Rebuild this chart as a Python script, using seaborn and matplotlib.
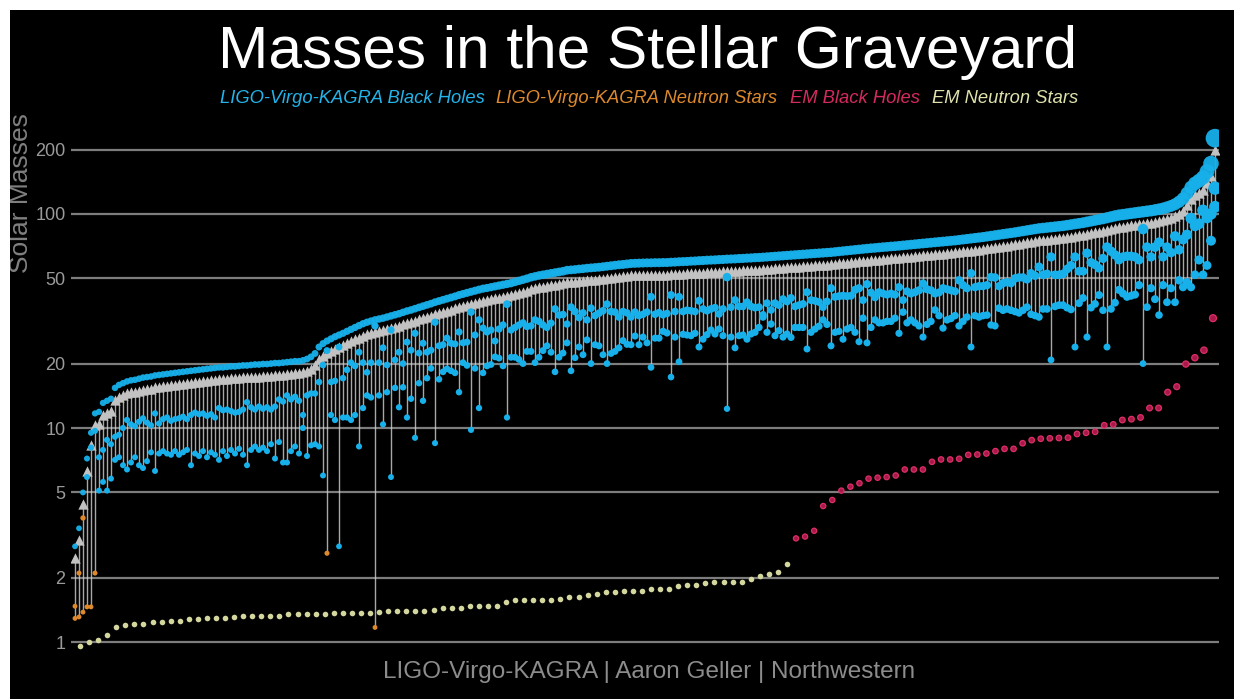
import matplotlib
matplotlib.use("Agg")
import numpy as np
import pandas as pd
import matplotlib.pyplot as plt
from matplotlib.patches import Rectangle
from matplotlib.ticker import NullLocator
import seaborn as sns

# ---------------- data ----------------
final_mass = [
    2.8, 3.4, 5.0, 7.2, 9.5, 11.7, 11.9, 13.1, 13.4, 13.7,
    15.4, 15.9, 16.2, 16.5, 16.7, 16.8, 17.0, 17.2, 17.3, 17.4,
    17.6, 17.7, 17.8, 17.9, 18.0, 18.1, 18.2, 18.3, 18.4, 18.5,
    18.6, 18.7, 18.8, 18.9, 19.0, 19.1, 19.2, 19.2, 19.3, 19.4,
    19.4, 19.5, 19.6, 19.6, 19.7, 19.8, 19.8, 19.9, 19.9, 20.0,
    20.1, 20.1, 20.2, 20.3, 20.4, 20.5, 20.5, 20.7, 21.0, 21.5,
    22.3, 23.9, 24.8, 25.5, 26.1, 26.7, 27.2, 27.7, 28.3, 28.9,
    29.5, 30.1, 30.7, 31.2, 31.6, 32.0, 32.3, 32.6, 33.0, 33.4,
    33.8, 34.2, 34.7, 35.2, 35.6, 36.1, 36.6, 37.1, 37.6, 38.1,
    38.7, 39.2, 39.7, 40.2, 40.7, 41.2, 41.8, 42.3, 42.8, 43.3,
    43.8, 44.3, 44.8, 45.1, 45.5, 45.9, 46.3, 46.7, 47.1, 47.5,
    48.1, 48.7, 49.3, 49.9, 50.6, 51.1, 51.6, 52.0, 52.4, 52.8,
    53.2, 53.6, 54.0, 54.6, 54.8, 55.0, 55.3, 55.5, 55.8, 56.0,
    56.2, 56.4, 56.7, 57.0, 57.3, 57.6, 57.9, 58.1, 58.4, 58.7,
    58.8, 58.9, 59.0, 59.1, 59.1, 59.2, 59.2, 59.3, 59.3, 59.5,
    59.6, 59.8, 59.9, 60.0, 60.2, 60.3, 60.5, 60.6, 60.8, 60.9,
    61.0, 61.2, 61.3, 61.5, 61.6, 61.7, 61.9, 62.0, 62.2, 62.3,
    62.5, 62.6, 62.8, 63.0, 63.2, 63.4, 63.6, 63.8, 64.0, 64.2,
    64.4, 64.6, 64.8, 65.0, 65.2, 65.4, 65.6, 65.8, 66.0, 66.2,
    66.5, 66.8, 67.1, 67.4, 67.7, 68.0, 68.3, 68.6, 68.9, 69.2,
    69.4, 69.7, 70.0, 70.2, 70.5, 70.7, 71.0, 71.3, 71.6, 71.9,
    72.2, 72.5, 72.8, 73.1, 73.4, 73.7, 74.0, 74.3, 74.6, 74.9,
    75.2, 75.6, 76.0, 76.4, 76.8, 77.2, 77.6, 78.0, 78.5, 79.0,
    79.5, 80.0, 80.5, 81.0, 81.5, 82.0, 82.6, 83.2, 83.8, 84.4,
    85.0, 85.6, 86.0, 86.4, 86.8, 87.2, 87.6, 88.0, 88.6, 89.2,
    89.8, 90.4, 91.0, 91.8, 92.6, 93.4, 94.2, 95.0, 96.0, 97.0,
    98.0, 98.8, 99.4, 100.0, 100.6, 101.2, 101.8, 102.4, 103.0, 103.6,
    104.4, 105.2, 106.2, 107.5, 109.0, 111.0, 114.0, 118.0, 125.0, 133.0,
    139.0, 143.0, 148.0, 158.0, 172.0, 226.0,
]

primary_mass = [
    1.47, 2.1, 3.8, 5.9, 8.1, 9.7, 7.3, 7.9, 8.8, 8.4,
    9.1, 9.3, 10.0, 10.9, 10.4, 10.2, 10.7, 11.1, 10.6, 10.3,
    11.7, 10.5, 11.0, 11.2, 10.8, 11.0, 11.1, 11.3, 11.0, 11.5,
    11.8, 11.6, 11.7, 11.4, 11.6, 11.2, 12.4, 12.1, 12.2, 12.0,
    11.8, 11.9, 12.2, 13.2, 12.5, 12.2, 12.6, 12.3, 12.5, 12.2,
    12.6, 13.6, 13.3, 14.2, 13.6, 14.0, 13.4, 11.5, 14.2, 14.5,
    14.5, 16.4, 19.7, 23.0, 16.4, 16.6, 23.9, 17.1, 18.7, 20.2,
    19.5, 22.6, 20.2, 18.2, 20.2, 30.0, 20.2, 23.7, 19.7, 28.7,
    20.8, 22.6, 20.0, 25.2, 23.1, 27.7, 22.4, 24.9, 22.6, 23.1,
    31.2, 24.2, 24.5, 26.3, 24.9, 24.7, 28.1, 25.0, 25.2, 34.8,
    27.2, 32.0, 29.3, 28.1, 28.7, 25.5, 29.0, 30.3, 37.9, 28.7,
    29.5, 30.3, 31.0, 29.8, 30.0, 32.0, 31.5, 30.3, 29.5, 30.9,
    36.0, 33.7, 33.9, 30.6, 36.7, 35.0, 32.8, 34.5, 32.0, 36.3,
    33.5, 34.4, 35.3, 37.9, 35.0, 34.8, 33.0, 35.0, 34.5, 33.0,
    34.8, 33.5, 34.0, 34.8, 41.0, 34.0, 34.6, 33.8, 34.3, 41.8,
    35.0, 41.0, 35.0, 35.5, 35.3, 35.0, 39.3, 36.0, 35.3, 36.0,
    36.5, 34.1, 36.0, 50.7, 36.7, 39.6, 37.0, 37.0, 38.7, 37.0,
    36.5, 36.7, 33.8, 38.3, 35.6, 38.3, 37.5, 40.0, 39.0, 40.5,
    37.0, 37.5, 38.0, 43.1, 39.6, 39.3, 38.8, 36.7, 39.0, 45.0,
    41.0, 41.3, 41.5, 41.3, 41.5, 44.2, 45.0, 39.6, 47.0, 42.9,
    40.8, 43.1, 42.5, 42.0, 42.5, 42.0, 45.5, 39.6, 43.5, 42.5,
    43.1, 44.0, 47.3, 44.5, 44.0, 42.5, 43.0, 45.0, 44.5, 44.0,
    43.5, 49.0, 46.5, 45.0, 52.8, 45.5, 46.0, 46.0, 46.5, 50.7,
    50.5, 46.0, 47.5, 48.0, 47.5, 50.0, 50.5, 50.5, 49.5, 52.8,
    51.5, 56.6, 52.0, 52.5, 63.0, 52.0, 52.0, 52.5, 55.3, 57.5,
    63.0, 54.0, 54.0, 65.6, 59.3, 58.0, 55.8, 62.0, 70.0, 67.0,
    64.4, 61.0, 63.0, 63.5, 63.5, 63.0, 61.0, 85.0, 70.0, 63.0,
    70.0, 73.7, 63.0, 70.0, 66.0, 78.7, 68.0, 76.0, 80.0, 95.4,
    88.0, 90.0, 104.0, 96.0, 100.0, 132.0,
]

secondary_mass = [
    1.29, 1.31, 1.38, 1.46, 1.46, 2.1, 5.1, 5.6, 5.1, 5.8,
    7.1, 7.3, 6.7, 6.4, 6.9, 7.3, 6.7, 6.5, 7.0, 7.7,
    6.3, 7.6, 7.8, 7.6, 7.5, 7.8, 7.5, 7.7, 7.9, 6.7,
    7.6, 7.4, 7.8, 7.3, 7.7, 7.5, 7.1, 7.8, 7.4, 7.9,
    7.6, 8.0, 7.5, 6.7, 7.9, 8.2, 7.9, 8.1, 7.8, 8.4,
    7.2, 8.6, 6.9, 6.9, 7.8, 8.2, 7.6, 10.0, 7.4, 8.3,
    8.4, 8.2, 6.0, 2.6, 11.5, 10.9, 2.8, 11.2, 11.2, 10.9,
    11.5, 8.2, 12.4, 14.2, 13.9, 1.17, 14.2, 10.4, 14.7, 5.9,
    15.4, 12.5, 15.5, 11.2, 13.7, 9.0, 16.2, 13.4, 17.1, 19.0,
    8.5, 16.9, 18.3, 18.9, 18.5, 18.1, 14.7, 20.2, 19.6, 9.8,
    19.0, 12.4, 18.1, 19.5, 19.8, 21.5, 21.2, 19.5, 11.2, 21.4,
    21.4, 20.9, 20.0, 22.8, 22.8, 20.2, 21.4, 23.0, 24.2, 22.6,
    18.3, 21.4, 22.4, 25.0, 18.5, 21.3, 23.9, 22.0, 25.8, 20.0,
    24.5, 24.2, 22.0, 20.0, 22.3, 22.8, 23.7, 25.6, 24.6, 24.5,
    26.9, 24.5, 26.6, 25.0, 19.2, 26.3, 26.3, 28.3, 27.8, 17.3,
    26.6, 20.4, 27.4, 27.2, 27.0, 27.7, 23.9, 26.0, 27.3, 28.7,
    27.5, 29.0, 27.0, 12.3, 26.6, 23.7, 27.0, 27.2, 26.0, 27.5,
    28.0, 29.5, 33.0, 28.0, 30.6, 27.0, 28.5, 26.6, 27.5, 26.5,
    29.5, 29.5, 29.5, 23.4, 28.0, 29.0, 29.9, 32.0, 30.5, 24.2,
    28.0, 28.3, 26.0, 29.0, 29.5, 28.0, 25.3, 32.6, 25.0, 29.5,
    32.0, 31.0, 31.0, 31.5, 31.5, 32.6, 27.7, 34.8, 31.0, 32.0,
    31.0, 30.0, 26.6, 30.5, 31.5, 35.6, 33.5, 29.3, 32.0, 32.5,
    33.5, 30.0, 31.5, 33.0, 23.9, 33.5, 33.0, 33.5, 33.7, 30.3,
    30.0, 36.3, 35.5, 36.0, 35.5, 35.0, 34.5, 35.5, 36.7, 34.0,
    33.5, 33.0, 36.0, 36.0, 20.8, 37.0, 37.5, 37.5, 36.5, 35.8,
    23.9, 38.3, 40.5, 26.6, 36.5, 38.0, 41.8, 35.5, 23.9, 36.0,
    38.5, 44.2, 42.5, 41.0, 41.5, 42.0, 46.5, 20.0, 36.7, 45.0,
    40.0, 33.7, 46.5, 38.7, 45.0, 38.7, 49.0, 45.5, 48.0, 45.5,
    52.0, 61.0, 52.0, 57.5, 75.0, 108.0,
]

# events whose primary / secondary component is a neutron star
ns_primary_events = [0, 1, 2]
ns_secondary_events = [0, 1, 2, 3, 4, 5, 63, 75]

em_neutron_stars = [
    0.96, 1.00, 1.02, 1.08, 1.18, 1.20, 1.21, 1.22, 1.235, 1.24,
    1.25, 1.25, 1.275, 1.275, 1.30, 1.30, 1.30, 1.31, 1.32, 1.32,
    1.33, 1.33, 1.33, 1.35, 1.35, 1.35, 1.355, 1.355, 1.36, 1.36,
    1.365, 1.37, 1.37,
    1.385, 1.395, 1.395, 1.395, 1.40, 1.40, 1.415, 1.44, 1.44, 1.44,
    1.47, 1.47, 1.48, 1.48, 1.54, 1.57, 1.58, 1.58, 1.58, 1.58,
    1.59, 1.62, 1.62, 1.66, 1.68, 1.71, 1.71, 1.73, 1.74, 1.74,
    1.77, 1.77, 1.77, 1.82, 1.84, 1.84, 1.89, 1.91, 1.91, 1.91,
    1.91, 1.97, 2.03, 2.08, 2.12, 2.31,
]

em_black_holes = [
    3.05, 3.11, 3.31, 4.32, 4.61, 5.10, 5.32, 5.52, 5.80, 5.86,
    5.90, 6.00, 6.40, 6.40, 6.40, 6.95, 7.13, 7.13, 7.18, 7.49,
    7.52, 7.60, 7.80, 7.99, 7.99, 8.49, 8.78, 8.91, 8.95, 8.98,
    9.01, 9.38, 9.50, 9.60, 10.3, 10.4, 10.9, 11.0, 11.2, 12.4,
    12.4, 14.7, 15.6, 19.9, 21.3, 23.1, 32.6,
]

tick_values = [1, 2, 5, 10, 20, 50, 100, 200]
legend_labels = ["LIGO-Virgo-KAGRA Black Holes", "LIGO-Virgo-KAGRA Neutron Stars",
                 "EM Black Holes", "EM Neutron Stars"]
title_text = "Masses in the Stellar Graveyard"
ylabel_text = "Solar Masses"
credit_text = "LIGO-Virgo-KAGRA | Aaron Geller | Northwestern"

# ---------------- style ----------------
sns.set_theme(style="dark")
plt.rcParams["font.family"] = ["Liberation Sans", "DejaVu Sans"]

CYAN = "#17b0ea"
ORANGE = "#de8a2c"
PALE = "#d3d79d"
legend_colors = ["#22b4ea", "#de8a2c", "#d42a5e", "#dfe2ab"]
legend_x_px = [220, 496, 790, 932]


def marker_area(m, base=5.6, slope=0.058):
    d_px = base + slope * np.asarray(m, dtype=float)
    return (d_px * 0.72) ** 2


n = len(final_mass)
gw = pd.DataFrame({"event": np.arange(n), "final": final_mass,
                   "m1": primary_mass, "m2": secondary_mass})
gw["m1_ns"] = gw["event"].isin(ns_primary_events)
gw["m2_ns"] = gw["event"].isin(ns_secondary_events)
gw["tip"] = gw["final"] / 10 ** (12 / 214)
gw["low"] = gw[["m1", "m2"]].min(axis=1)

emns = pd.DataFrame({"x": np.linspace(1.25, 178.0, len(em_neutron_stars)),
                     "mass": em_neutron_stars})
embh = pd.DataFrame({"x": np.linspace(180.25, 284.5, len(em_black_holes)),
                     "mass": em_black_holes})

W, H = 1234, 699
fig = plt.figure(figsize=(W / 100, H / 100), dpi=100, facecolor="black")
ax = fig.add_axes([71 / W, 1 - 655 / H, 1148 / W, 540 / H])
ax.set_facecolor("black")
ax.set_yscale("log")
ax.set_ylim(0.87, 290)
ax.set_xlim(-1, 286)
for sp in ax.spines.values():
    sp.set_visible(False)
ax.grid(False)

for t in tick_values:
    ax.axhline(t, color="#7d7d7d", lw=1.6, zorder=1)

# connecting lines and arrowheads
ax.vlines(gw["event"], gw["low"], gw["tip"], colors="#d2d2d2", lw=1.0,
          alpha=0.8, zorder=2)
sns.scatterplot(data=gw, x="event", y="tip", marker="^", s=55, color="#c2c2c2",
                linewidth=0, ax=ax, zorder=3, legend=False)

# component masses
for col, flag in (("m2", "m2_ns"), ("m1", "m1_ns")):
    bh = gw[~gw[flag]]
    ns = gw[gw[flag]]
    sns.scatterplot(x=bh["event"], y=bh[col], s=marker_area(bh[col]), color=CYAN,
                    linewidth=0, ax=ax, zorder=4, legend=False)
    sns.scatterplot(x=ns["event"], y=ns[col], s=marker_area(ns[col], 4.6, 0.2),
                    color=ORANGE, linewidth=0, ax=ax, zorder=4, legend=False)

# remnants
sns.scatterplot(data=gw, x="event", y="final", s=marker_area(gw["final"]),
                color=CYAN, linewidth=0, alpha=0.95, ax=ax, zorder=5, legend=False)

# EM populations
sns.scatterplot(data=emns, x="x", y="mass", s=(5.6 * 0.72) ** 2, color=PALE,
                linewidth=0, ax=ax, zorder=5, legend=False)
sns.scatterplot(data=embh, x="x", y="mass", s=marker_area(embh["mass"], 5.0, 0.06),
                color="#a8184a", edgecolor="#dc2f65", linewidth=0.9, ax=ax,
                zorder=5, legend=False)

ax.set_yticks(tick_values)
ax.set_yticklabels([str(t) for t in tick_values])
ax.yaxis.set_minor_locator(NullLocator())
ax.set_xticks([])
ax.set_xlabel("")
ax.set_ylabel("")
ax.tick_params(axis="y", length=0, pad=4, labelsize=13, labelcolor="#9a9a9a")

# texts
fig.text(648 / W, 1 - 68 / H, title_text, ha="center", va="baseline",
         fontsize=43.5, color="white")
for lab, col, xp in zip(legend_labels, legend_colors, legend_x_px):
    fig.text(xp / W, 1 - 103 / H, lab, ha="left", va="baseline", fontsize=13.2,
             style="italic", color=col)
fig.text(21 / W, 1 - 193 / H, ylabel_text, rotation=90, ha="center", va="center",
         fontsize=19, color="#808080")
fig.text(649 / W, 1 - 672 / H, credit_text, ha="center", va="center",
         fontsize=17.5, color="#8c8c8c")

# white page margins seen at the top and left of the reference
fig.add_artist(Rectangle((0, 1 - 10 / H), 1, 10 / H, transform=fig.transFigure,
                         facecolor="white", edgecolor="none", zorder=20))
fig.add_artist(Rectangle((0, 0), 10 / W, 1, transform=fig.transFigure,
                         facecolor="white", edgecolor="none", zorder=20))

fig.savefig("out.png", dpi=100, facecolor="black")
